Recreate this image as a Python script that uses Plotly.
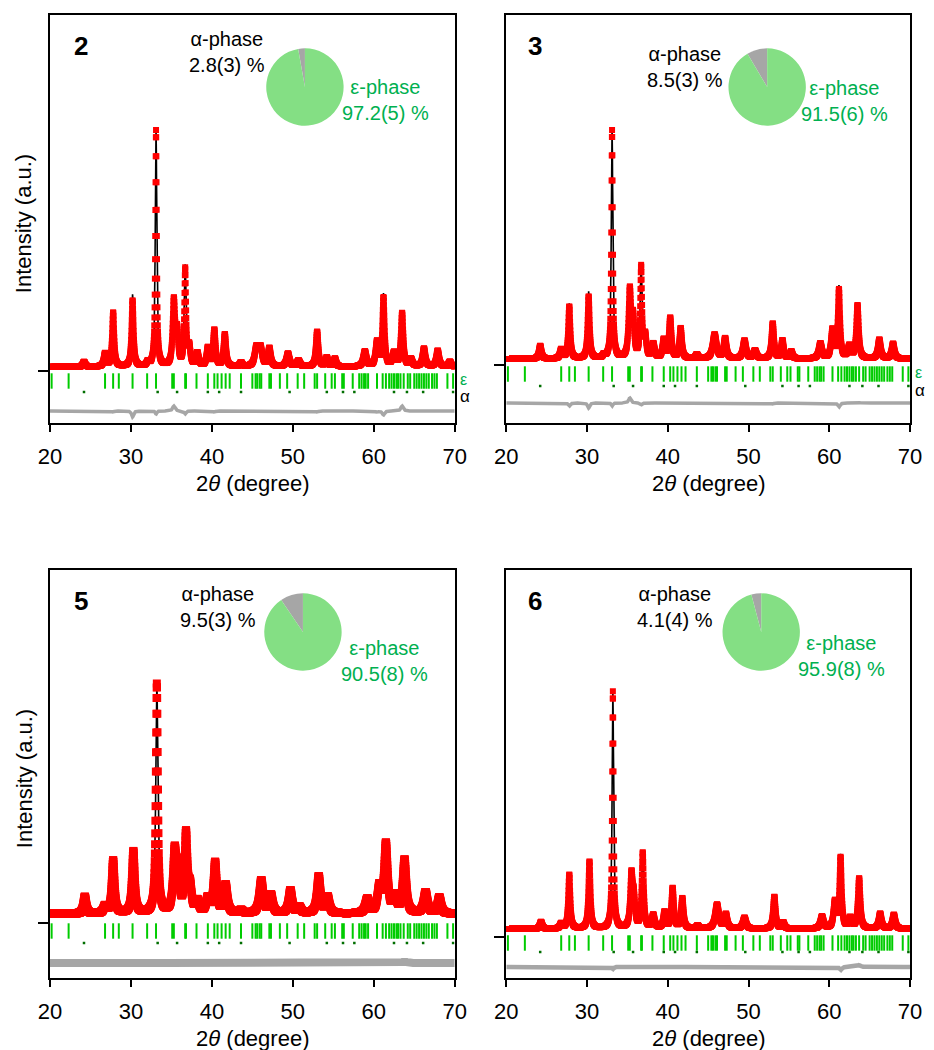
import numpy as np
import plotly.graph_objects as go

# ---------------- data ----------------
# Reflection positions (2θ, degree) of the two phases
EPS_TICKS = [20.2, 22.3, 26.8, 27.8, 28.5, 30.2, 32.0, 33.1, 35.1, 35.3, 36.7, 36.8,
             38.1, 39.5, 40.3, 40.7, 41.2, 41.7, 42.2, 43.6, 45.0, 45.4, 45.6, 45.9,
             46.1, 47.1, 47.3, 48.4, 49.3, 50.6, 51.4, 52.7, 53.0, 54.0, 54.8, 55.2,
             56.1, 56.3, 57.4, 58.2, 58.5, 58.8, 59.0, 59.3, 60.4, 61.1, 61.5, 61.9,
             62.2, 62.5, 62.8, 63.0, 63.3, 63.7, 64.2, 64.5, 65.0, 65.3, 65.6, 65.9,
             66.2, 66.5, 66.8, 67.2, 67.5, 67.8, 69.1, 69.8]
ALPHA_TICKS = [24.2, 33.3, 35.7, 39.5, 40.9, 43.6, 49.6, 54.2, 56.2, 57.6, 62.5,
               64.1, 66.1, 69.8]

SAMPLES = ["2", "3", "5", "6"]
ALPHA_PCT = [2.8, 8.5, 9.5, 4.1]
EPS_PCT = [97.2, 91.5, 90.5, 95.9]
ALPHA_TXT = ["2.8(3) %", "8.5(3) %", "9.5(3) %", "4.1(4) %"]
EPS_TXT = ["97.2(5) %", "91.5(6) %", "90.5(8) %", "95.9(8) %"]

# background level (a.u.)
BG = [4, 6, 9, 8]

# sample 2 peaks: position, observed height, calculated height, FWHM
P2_POS = [24.2, 26.8, 27.8, 30.2, 32.1, 33.1, 35.3, 35.7, 36.7, 37.2, 38.2, 39.5, 40.3,
          41.6, 43.6, 45.5, 46.0, 47.1, 49.4, 50.7, 53.0, 54.2, 55.2, 58.9, 60.4, 61.2,
          62.5, 63.5, 64.6, 66.2, 67.9, 69.4]
P2_OBS = [9, 17, 58, 70, 8, 240, 68, 36, 100, 22, 17, 22, 40, 36, 8, 22, 22, 22, 17, 10,
          39, 13, 12, 19, 28, 72, 17, 57, 11, 22, 20, 9]
P2_CAL = [9, 17, 59, 76, 8, 243, 63, 36, 103, 22, 17, 22, 41, 36, 8, 22, 22, 22, 17, 10,
          40, 13, 12, 19, 29, 76, 17, 52, 11, 22, 20, 9]
P2_FW = [0.35, 0.35, 0.3, 0.3, 0.35, 0.22, 0.35, 0.35, 0.26, 0.35, 0.4, 0.35, 0.35, 0.35,
         0.35, 0.5, 0.5, 0.4, 0.45, 0.45, 0.35, 0.35, 0.35, 0.45, 0.4, 0.32, 0.45, 0.35,
         0.4, 0.4, 0.4, 0.4]

# sample 3
P3_POS = [24.2, 26.8, 27.8, 30.2, 32.1, 33.1, 35.3, 35.7, 36.7, 37.2, 38.2, 39.5, 40.3,
          41.6, 43.6, 45.8, 47.1, 49.5, 50.8, 53.0, 54.2, 55.3, 58.9, 60.4, 61.2, 62.5,
          63.5, 66.2, 67.9]
P3_OBS = [19, 15, 58, 68, 9, 234, 72, 44, 96, 27, 20, 24, 46, 36, 10, 30, 26, 24, 14, 41,
          24, 13, 21, 34, 74, 18, 59, 25, 21]
P3_CAL = [19, 15, 61, 73, 9, 237, 67, 44, 98, 27, 20, 24, 46, 36, 10, 30, 26, 24, 14, 42,
          24, 13, 21, 34, 78, 18, 58, 25, 21]
P3_FW = [0.35, 0.35, 0.3, 0.3, 0.35, 0.22, 0.35, 0.35, 0.26, 0.35, 0.4, 0.35, 0.35, 0.35,
         0.35, 0.55, 0.4, 0.45, 0.45, 0.35, 0.35, 0.35, 0.45, 0.4, 0.32, 0.45, 0.35, 0.4,
         0.4]

# sample 5
P5_POS = [24.3, 26.8, 27.8, 30.3, 33.2, 35.4, 35.8, 36.8, 37.3, 38.2, 39.5, 40.4, 41.7,
          43.6, 46.1, 47.3, 49.7, 50.8, 53.2, 54.3, 59.2, 60.7, 61.5, 62.6, 63.8, 66.4,
          68.1]
P5_OBS = [26, 16, 62, 71, 238, 66, 48, 86, 32, 20, 23, 59, 37, 12, 42, 27, 32, 15, 46, 25,
          23, 34, 77, 25, 62, 30, 25]
P5_CAL = [26, 16, 62, 72, 240, 65, 48, 87, 32, 20, 23, 59, 37, 12, 42, 27, 32, 15, 46, 25,
          23, 34, 78, 25, 60, 30, 25]
P5_FW = [0.4, 0.45, 0.4, 0.4, 0.3, 0.45, 0.45, 0.4, 0.45, 0.5, 0.5, 0.45, 0.5, 0.5,
         0.55, 0.5, 0.5, 0.5, 0.5, 0.5, 0.55, 0.55, 0.5, 0.55, 0.5, 0.55, 0.5]

# sample 6
P6_POS = [24.3, 26.8, 27.8, 30.3, 33.2, 35.5, 35.8, 36.9, 38.2, 39.6, 40.6, 41.8, 43.7,
          46.1, 47.2, 49.5, 53.2, 54.3, 59.1, 60.7, 61.4, 62.6, 63.7, 66.3, 68.0]
P6_OBS = [15, 13, 62, 75, 245, 59, 35, 83, 21, 24, 48, 38, 11, 32, 22, 19, 40, 14, 20, 34,
          78, 18, 58, 23, 22]
P6_CAL = [15, 13, 63, 76, 247, 58, 35, 84, 21, 24, 48, 38, 11, 32, 22, 19, 40, 14, 20, 34,
          81, 18, 56, 23, 22]
P6_FW = [0.35, 0.35, 0.3, 0.3, 0.22, 0.35, 0.35, 0.3, 0.4, 0.35, 0.35, 0.35, 0.35, 0.55,
         0.4, 0.45, 0.35, 0.35, 0.45, 0.4, 0.32, 0.45, 0.35, 0.4, 0.4]

PEAKS = [(P2_POS, P2_OBS, P2_CAL, P2_FW), (P3_POS, P3_OBS, P3_CAL, P3_FW),
         (P5_POS, P5_OBS, P5_CAL, P5_FW), (P6_POS, P6_OBS, P6_CAL, P6_FW)]

# ---------------- styling / layout ----------------
FONT = "Liberation Sans, Arial, sans-serif"
RED = "#FF0000"
GREEN_TICK = "#00CC00"
ALPHA_DOT = "#006E00"
GREY = "#A6A6A6"
PIE_GREEN = "#84DF84"
PIE_GREY = "#A6A6A6"
TXT_GREEN = "#00B050"

W, H = 934, 1050
ML, MR, MT, MB = 50, 17, 15, 72
PW, PH = W - ML - MR, H - MT - MB

def px2x(px):
    return (px - ML) / PW

def px2y(py):
    return (H - MB - py) / PH

# panel boxes in pixels: (left, right, top, bottom)
BOXES = [(50, 458, 15, 423), (510, 917, 15, 423), (50, 458, 570, 978), (510, 917, 570, 978)]
YR = [(-52, 356), (-58, 350), (-55, 353), (-41, 367)]
TICK_Y = [-10, -9, -8, -6]
DOT_Y = [-21, -21, -20, -15]
DIFF_Y = [-40, -38, -40, -30]
OBS_SIZE = [6, 6, 8, 6]
DIFF_W = [3.5, 3.5, 8, 4.5]
PIE_C = [(307, 87), (773, 87), (305, 632), (767, 632)]
PIE_R = 39
ALPHA_LBL = [(228, 52), (690, 67), (219, 607), (680, 607)]
EPS_LBL = [(388, 100), (851, 101), (387, 661), (848, 656)]
NUM_LBL = [(81, 46), (539, 46), (81, 601), (539, 601)]

x = np.arange(20.0, 70.0001, 0.02)
ETA = 0.8


def profile(pos, hts, fw, bg):
    y = np.full_like(x, float(bg))
    for p, h, w in zip(pos, hts, fw):
        d = (x - p) / (w / 2.0)
        y += (h - bg) * (ETA / (1 + d * d) + (1 - ETA) * np.exp(-np.log(2) * d * d))
    return y


fig = go.Figure()
annotations = []

for i in range(4):
    s = "" if i == 0 else str(i + 1)
    xa, ya = "x" + s, "y" + s
    pos, obs_h, cal_h, fw = PEAKS[i]
    obs = profile(pos, obs_h, fw, BG[i])
    cal = profile(pos, cal_h, fw, BG[i])
    diff = obs - cal + DIFF_Y[i]

    fig.add_trace(go.Scatter(x=x, y=diff, mode="lines", line=dict(color=GREY, width=DIFF_W[i]),
                             xaxis=xa, yaxis=ya, showlegend=False, hoverinfo="skip"))
    fig.add_trace(go.Scatter(x=x, y=cal, mode="lines", line=dict(color="black", width=1.6),
                             xaxis=xa, yaxis=ya, showlegend=False, hoverinfo="skip"))
    fig.add_trace(go.Scatter(x=x, y=obs, mode="markers",
                             marker=dict(symbol="square", size=OBS_SIZE[i], color=RED, line=dict(width=0)),
                             xaxis=xa, yaxis=ya, showlegend=False, hoverinfo="skip"))
    fig.add_trace(go.Scatter(x=EPS_TICKS, y=[TICK_Y[i]] * len(EPS_TICKS), mode="markers",
                             marker=dict(symbol="line-ns", size=11, line=dict(color=GREEN_TICK, width=2)),
                             xaxis=xa, yaxis=ya, showlegend=False, hoverinfo="skip"))
    fig.add_trace(go.Scatter(x=ALPHA_TICKS, y=[DOT_Y[i]] * len(ALPHA_TICKS), mode="markers",
                             marker=dict(symbol="square", size=2.5, color=ALPHA_DOT, line=dict(width=0)),
                             xaxis=xa, yaxis=ya, showlegend=False, hoverinfo="skip"))

    l, r, t, b = BOXES[i]
    ax_common = dict(showline=True, linecolor="black", linewidth=2, mirror=True,
                     showgrid=False, zeroline=False, ticks="outside", tickcolor="black",
                     tickwidth=1.5)
    fig.layout["xaxis" + s] = dict(ax_common, domain=[px2x(l), px2x(r)], range=[20, 70],
                                   tickvals=[20, 30, 40, 50, 60, 70], ticklen=7,
                                   tickfont=dict(family=FONT, size=22, color="black"),
                                   ticklabelstandoff=6,
                                   anchor=ya)
    fig.layout["yaxis" + s] = dict(ax_common, domain=[px2y(b), px2y(t)], range=list(YR[i]),
                                   tickvals=[0], ticktext=[""], ticklen=10, anchor=xa)

    # pie inset
    cx, cy = PIE_C[i]
    fig.add_trace(go.Pie(values=[ALPHA_PCT[i], EPS_PCT[i]], labels=["α-phase", "ε-phase"],
                         sort=False, direction="clockwise", rotation=-360 * ALPHA_PCT[i] / 100.0,
                         marker=dict(colors=[PIE_GREY, PIE_GREEN], line=dict(width=0)),
                         textinfo="none", hoverinfo="skip", showlegend=False,
                         domain=dict(x=[px2x(cx - PIE_R), px2x(cx + PIE_R)],
                                     y=[px2y(cy + PIE_R), px2y(cy - PIE_R)])))

    ax_, ay_ = ALPHA_LBL[i]
    annotations.append(dict(x=px2x(ax_), y=px2y(ay_), xref="paper", yref="paper",
                            text="α-phase<br>" + ALPHA_TXT[i], showarrow=False,
                            font=dict(family=FONT, size=20, color="black"),
                            xanchor="center", yanchor="middle"))
    ex, ey = EPS_LBL[i]
    annotations.append(dict(x=px2x(ex), y=px2y(ey), xref="paper", yref="paper",
                            text="ε-phase<br>" + EPS_TXT[i], showarrow=False,
                            font=dict(family=FONT, size=20, color=TXT_GREEN),
                            xanchor="center", yanchor="middle"))
    nx, ny = NUM_LBL[i]
    annotations.append(dict(x=px2x(nx), y=px2y(ny), xref="paper", yref="paper",
                            text="<b>" + SAMPLES[i] + "</b>", showarrow=False,
                            font=dict(family=FONT, size=26, color="black"),
                            xanchor="center", yanchor="middle"))
    # x title
    annotations.append(dict(x=px2x((l + r) / 2), y=px2y(b + 60), xref="paper", yref="paper",
                            text="2<i>θ</i> (degree)", showarrow=False,
                            font=dict(family=FONT, size=22, color="black"),
                            xanchor="center", yanchor="middle"))
    if i in (0, 2):
        annotations.append(dict(x=px2x(24), y=px2y((t + b) / 2 + 5), xref="paper", yref="paper",
                                text="Intensity (a.u.)", showarrow=False, textangle=-90,
                                font=dict(family=FONT, size=22, color="black"),
                                xanchor="center", yanchor="middle"))
    if i in (0, 1):
        annotations.append(dict(x=70, y=TICK_Y[i] + 2, xref=xa, yref=ya, text="ε",
                                showarrow=False, xanchor="left", yanchor="middle", xshift=3,
                                font=dict(family=FONT, size=16, color=TXT_GREEN)))
        annotations.append(dict(x=70, y=DOT_Y[i] - 4, xref=xa, yref=ya, text="α",
                                showarrow=False, xanchor="left", yanchor="middle", xshift=3,
                                font=dict(family=FONT, size=17, color="black")))

fig.update_layout(width=W, height=H, margin=dict(l=ML, r=MR, t=MT, b=MB),
                  paper_bgcolor="white", plot_bgcolor="white",
                  annotations=annotations, font=dict(family=FONT))

fig.write_html("out.html")
